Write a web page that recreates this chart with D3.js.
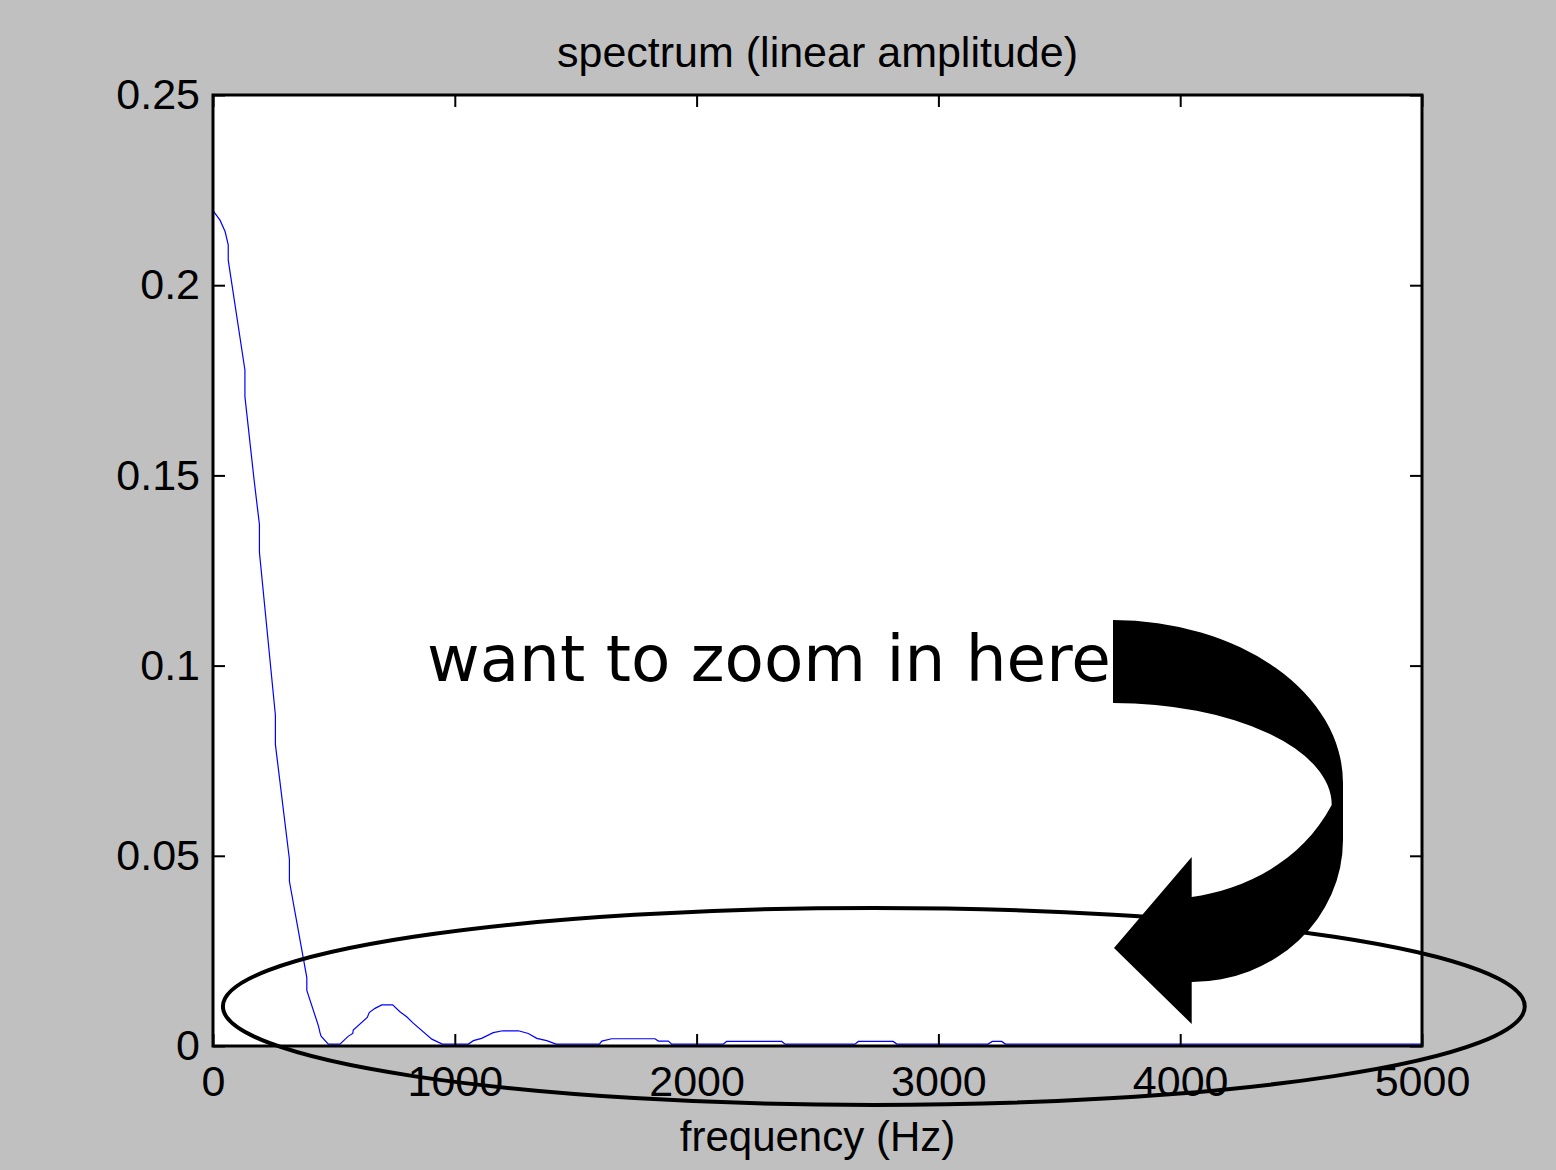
<!DOCTYPE html>
<html>
<head>
<meta charset="utf-8">
<script src="https://cdn.jsdelivr.net/npm/d3@7"></script>
<style>
  html, body { margin: 0; padding: 0; background: #c0c0c0; }
  svg { display: block; }
</style>
</head>
<body>
<script>
// Amplitude spectrum of a short rectangular pulse (Hz, linear amplitude)
const frequency = [
  0, 29, 50, 63, 63, 132, 132, 170, 192, 192, 258, 258, 316, 316, 388, 388,
  436, 443, 447, 477, 525, 560, 578, 580, 638, 646, 670, 698, 743, 773, 801,
  828, 905, 948, 1056, 1077, 1111, 1159, 1198, 1263, 1304, 1339, 1380, 1419,
  1598, 1608, 1649, 1828, 1842, 1883, 1897, 2110, 2124, 2352, 2366, 2655,
  2669, 2813, 2828, 3205, 3223, 3262, 3277, 5000
];
const amplitude = [
  0.2196, 0.2171, 0.2141, 0.2106, 0.2066, 0.1777, 0.1707, 0.1488, 0.1371, 0.1298,
  0.0870, 0.0793, 0.0491, 0.0433, 0.0180, 0.0146, 0.0053, 0.0034, 0.0026, 0.0005,
  0.0005, 0.0026, 0.0033, 0.0042, 0.0075, 0.0088, 0.0099, 0.0108, 0.0108, 0.0090,
  0.0077, 0.0060, 0.0018, 0.0005, 0.0005, 0.0014, 0.0020, 0.0035, 0.0040, 0.0040,
  0.0033, 0.0020, 0.0014, 0.0005, 0.0005, 0.0013, 0.0019, 0.0019, 0.0013, 0.0013,
  0.0005, 0.0005, 0.0012, 0.0012, 0.0005, 0.0005, 0.0012, 0.0012, 0.0005, 0.0005,
  0.0012, 0.0012, 0.0005, 0.0005
];
const xTicks = [0, 1000, 2000, 3000, 4000, 5000];
const yTicks = [0, 0.05, 0.1, 0.15, 0.2, 0.25];
const yTickLabels = ["0", "0.05", "0.1", "0.15", "0.2", "0.25"];

const titleText = "spectrum (linear amplitude)";
const xLabelText = "frequency (Hz)";
const noteText = "want to zoom in here";

const W = 1556, H = 1170;
const plot = { left: 213, right: 1422, top: 95, bottom: 1046 };
const sansFont = "'Liberation Sans', Arial, Helvetica, sans-serif";

const svg = d3.select("body").append("svg")
  .attr("width", W).attr("height", H);

svg.append("rect").attr("width", W).attr("height", H).attr("fill", "#c0c0c0");

const x = d3.scaleLinear().domain([0, 5000]).range([plot.left, plot.right]);
const y = d3.scaleLinear().domain([0, 0.25]).range([plot.bottom, plot.top]);

// white axes box
svg.append("rect")
  .attr("x", plot.left).attr("y", plot.top)
  .attr("width", plot.right - plot.left).attr("height", plot.bottom - plot.top)
  .attr("fill", "#ffffff");

// spectrum trace
const series = frequency.map((f, i) => ({ f, a: amplitude[i] }));
svg.append("path")
  .datum(series)
  .attr("fill", "none")
  .attr("stroke", "#0000ff")
  .attr("stroke-width", 1.2)
  .attr("d", d3.line().x(d => x(d.f)).y(d => y(d.a)));

// axes with inward ticks on all four sides
function styleAxis(g) {
  g.select(".domain").remove();
  g.selectAll(".tick line").attr("stroke", "#000").attr("stroke-width", 2);
  g.selectAll(".tick text")
    .attr("fill", "#000")
    .style("font-family", sansFont)
    .style("font-size", "43px");
}

svg.append("g")
  .attr("transform", `translate(0,${plot.bottom})`)
  .call(d3.axisBottom(x).tickValues(xTicks).tickFormat(d3.format("d"))
    .tickSizeInner(-12).tickSizeOuter(0).tickPadding(19))
  .call(styleAxis);

svg.append("g")
  .attr("transform", `translate(0,${plot.top})`)
  .call(d3.axisTop(x).tickValues(xTicks).tickFormat("")
    .tickSizeInner(-12).tickSizeOuter(0))
  .call(styleAxis);

svg.append("g")
  .attr("transform", `translate(${plot.left},0)`)
  .call(d3.axisLeft(y).tickValues(yTicks).tickFormat((d, i) => yTickLabels[i])
    .tickSizeInner(-12).tickSizeOuter(0).tickPadding(13))
  .call(styleAxis);

svg.append("g")
  .attr("transform", `translate(${plot.right},0)`)
  .call(d3.axisRight(y).tickValues(yTicks).tickFormat("")
    .tickSizeInner(-12).tickSizeOuter(0))
  .call(styleAxis);

// axes frame
svg.append("rect")
  .attr("x", plot.left).attr("y", plot.top)
  .attr("width", plot.right - plot.left).attr("height", plot.bottom - plot.top)
  .attr("fill", "none").attr("stroke", "#000").attr("stroke-width", 3);

// title and axis label
svg.append("text")
  .attr("x", (plot.left + plot.right) / 2).attr("y", 67)
  .attr("text-anchor", "middle")
  .style("font-family", sansFont).style("font-size", "43px")
  .text(titleText);

svg.append("text")
  .attr("x", (plot.left + plot.right) / 2).attr("y", 1151)
  .attr("text-anchor", "middle")
  .style("font-family", sansFont).style("font-size", "42px")
  .text(xLabelText);

// callout text
const note = svg.append("text")
  .attr("x", 427).attr("y", 681)
  .style("font-family", "'DejaVu Sans', Verdana, sans-serif")
  .style("font-size", "60px")
  .attr("fill", "#000")
  .text(noteText);
const noteWidth = note.node().getComputedTextLength();
note.style("font-size", (60 * 684 / noteWidth).toFixed(1) + "px");

// ellipse circling the low-amplitude region (centre/radii in data units)
const ring = { f: 2733, a: 0.0104, rf: 2692, ra: 0.0259 };
svg.append("ellipse")
  .attr("cx", x(ring.f)).attr("cy", y(ring.a))
  .attr("rx", x(ring.rf) - x(0)).attr("ry", y(0) - y(ring.ra))
  .attr("fill", "none").attr("stroke", "#000").attr("stroke-width", 4);

// curved block arrow pointing down into the ellipse
svg.append("path")
  .attr("fill", "#000")
  .attr("d",
    "M1113,620" +
    "A230,163 0 0 1 1343,783" +
    "L1343,840" +
    "A151.3,142 0 0 1 1191.7,982" +
    "L1191.7,1024" +
    "L1114,948" +
    "L1191.7,857" +
    "L1191.7,897" +
    "C1240,890 1300,865 1331.7,805" +
    "A218.7,102 0 0 0 1113,703" +
    "Z");
</script>
</body>
</html>
